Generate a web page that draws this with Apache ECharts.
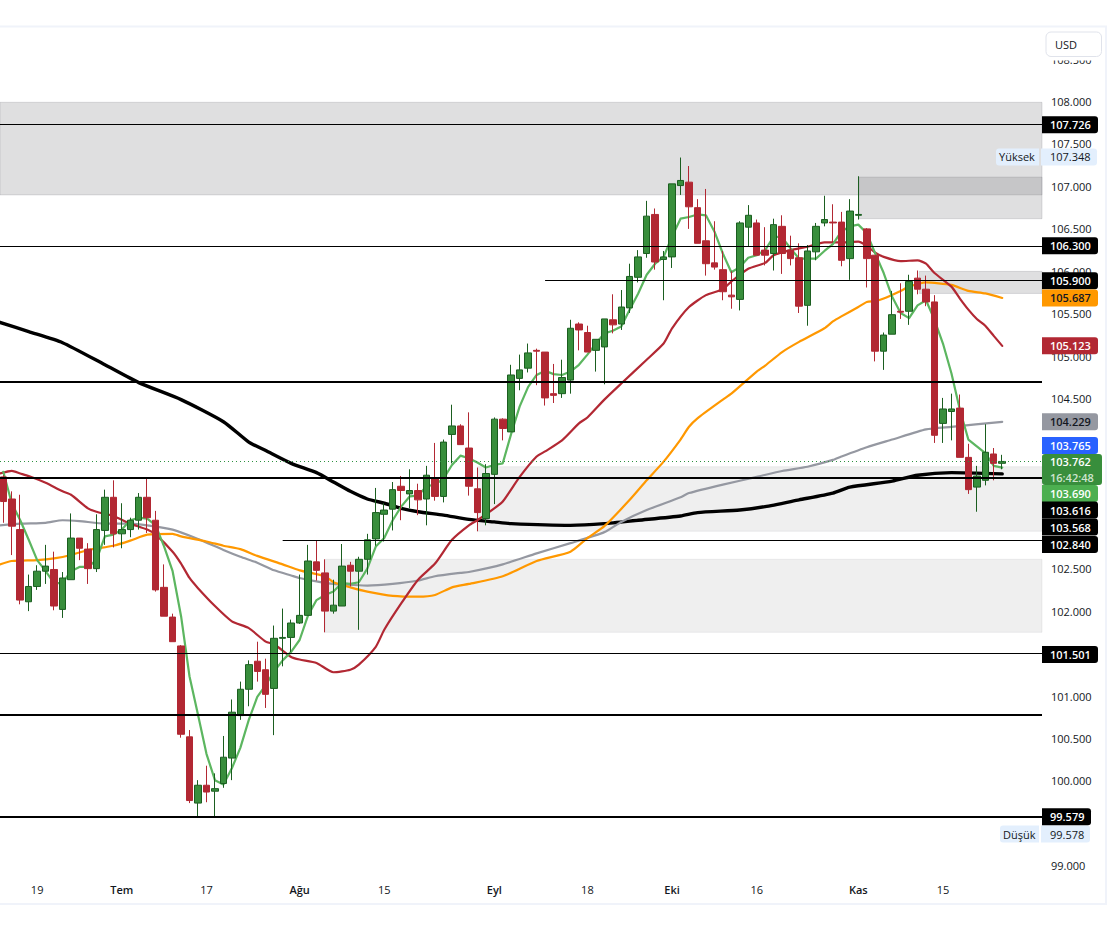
<!DOCTYPE html>
<html lang="tr">
<head>
<meta charset="utf-8">
<title>USD</title>
<style>
  html, body { margin: 0; padding: 0; background: #fff; }
  #chart { width: 1116px; height: 939px; }
</style>
</head>
<body>
<div id="chart"></div>
<script src="https://cdn.jsdelivr.net/npm/echarts@6/dist/echarts.min.js"></script>
<script>
// ---------- mumlar (candle index = dizi sirasi) ----------
var opens = [103.58,103.32,102.96,102.11,102.29,102.47,102.49,102.02,102.37,102.86,102.73,102.50,102.95,103.34,102.91,102.96,103.07,103.34,103.07,102.28,
  101.93,101.59,100.52,99.74,99.95,99.88,99.97,100.27,100.77,101.08,101.41,101.31,101.09,101.68,101.69,101.86,101.95,102.58,102.45,102.00,
  102.06,102.54,102.47,102.61,102.85,103.14,103.20,103.47,103.38,103.42,103.32,103.56,103.35,104.08,104.18,103.92,103.44,103.09,103.61,104.26,
  104.11,104.74,104.86,105.07,105.05,104.56,104.56,104.72,105.38,105.28,105.07,105.11,105.43,105.38,105.57,105.93,106.21,106.67,106.14,106.17,
  107.01,107.05,106.75,106.36,106.10,106.02,105.72,105.67,106.52,106.57,106.25,106.21,106.53,106.25,106.16,105.60,106.23,106.57,106.58,106.58,
  106.15,106.66,106.50,106.19,105.06,105.26,105.53,105.53,105.92,105.79,105.64,104.21,104.35,104.39,103.81,103.46,103.54,103.85,103.74];
var highs = [103.60,103.41,103.37,102.43,102.54,102.78,102.70,102.46,103.15,102.86,102.80,103.14,103.43,103.54,103.27,103.10,103.39,103.56,103.18,102.55,
  101.97,101.60,100.60,100.01,100.18,100.09,100.53,100.96,101.17,101.42,101.64,101.44,101.83,102.03,101.90,102.43,102.78,102.83,102.61,102.37,
  102.79,102.58,102.64,102.91,103.45,103.27,103.52,103.59,103.67,103.50,103.71,103.98,104.02,104.43,104.20,104.34,103.69,103.73,104.28,104.27,
  104.90,105.02,105.15,105.09,105.05,104.91,104.96,105.43,105.40,105.36,105.20,105.44,105.73,105.78,106.09,106.25,106.83,106.74,106.24,107.03,
  107.34,107.24,106.85,106.97,106.59,106.24,106.00,106.59,106.78,106.61,106.52,106.62,106.66,106.42,106.33,106.31,106.57,106.89,106.79,106.70,
  106.85,107.12,106.51,106.19,105.28,105.77,105.86,105.96,106.01,105.95,105.72,104.51,104.56,104.55,103.97,103.71,104.20,103.92,103.84];
var lows = [103.04,102.66,102.08,102.00,102.25,102.32,102.01,101.92,102.37,102.60,102.32,102.46,102.78,102.75,102.74,102.87,102.96,102.92,102.23,101.94,
  101.64,100.51,99.74,99.58,99.75,99.58,99.92,100.01,100.72,100.88,101.17,100.86,100.54,101.35,101.52,101.85,101.95,102.36,101.75,101.97,
  102.06,102.29,101.78,102.43,102.77,102.82,102.95,103.07,103.21,103.13,103.01,103.30,103.28,103.74,103.96,103.36,102.94,103.01,103.26,104.01,
  104.11,104.60,104.81,104.66,104.42,104.45,104.51,104.56,105.07,105.05,104.82,104.67,105.27,105.31,105.51,105.87,106.16,106.02,105.66,106.04,
  106.90,106.50,106.33,105.95,106.02,105.66,105.56,105.54,106.29,106.19,106.07,106.01,105.97,106.07,105.51,105.36,106.13,106.53,106.34,106.06,
  105.90,106.61,105.81,104.94,104.84,105.26,105.44,105.37,105.73,105.59,103.98,103.98,104.01,103.81,103.38,103.17,103.48,103.54,103.67];
var closes = [103.29,103.00,102.13,102.29,102.47,102.53,102.06,102.39,102.86,102.74,102.50,102.96,103.34,102.91,102.96,103.07,103.34,103.10,102.25,101.94,
  101.64,100.55,99.77,99.95,99.87,99.91,100.28,100.81,101.08,101.37,101.29,101.02,101.68,101.69,101.86,101.95,102.59,102.48,102.00,102.07,
  102.53,102.47,102.61,102.84,103.16,103.19,103.43,103.42,103.42,103.31,103.60,103.35,103.99,104.18,103.96,103.47,103.16,103.62,104.26,104.15,
  104.78,104.84,105.04,105.06,104.51,104.54,104.75,105.33,105.31,105.05,105.20,105.44,105.37,105.58,105.94,106.17,106.65,106.11,106.17,107.03,
  107.07,106.76,106.33,106.09,106.05,105.76,105.70,106.57,106.66,106.19,106.19,106.55,106.21,106.15,105.59,106.24,106.53,106.61,106.57,106.13,
  106.71,106.67,106.15,105.06,105.25,105.49,105.52,105.88,105.79,105.64,104.07,104.38,104.38,103.81,103.43,103.59,103.87,103.74,103.762];

// ---------- hareketli ortalamalar ----------
var ma5Val = [103.64,103.27,103.07,102.84,102.60,102.47,102.33,102.33,102.47,102.52,102.52,102.60,102.88,102.90,102.96,103.07,103.10,103.09,103.01,102.76,
  102.47,101.94,101.23,100.78,100.32,100.01,99.96,100.15,100.39,100.72,100.99,101.13,101.29,101.42,101.52,101.66,101.95,102.13,102.19,102.23,
  102.33,102.32,102.34,102.50,102.76,102.86,103.07,103.23,103.35,103.36,103.47,103.49,103.56,103.72,103.83,103.80,103.75,103.69,103.72,103.74,
  104.09,104.41,104.64,104.78,104.83,104.79,104.78,104.82,104.90,105.02,105.15,105.27,105.30,105.35,105.55,105.74,105.96,106.09,106.17,106.41,
  106.62,106.64,106.67,106.66,106.47,106.21,105.99,106.05,106.16,106.19,106.25,106.41,106.40,106.27,106.15,106.15,106.15,106.24,106.32,106.47,
  106.53,106.55,106.45,106.21,105.98,105.70,105.51,105.45,105.60,105.66,105.43,105.15,104.80,104.37,104.02,103.94,103.86,103.71,103.69];

var ma20Idx = [-0.4,1,2,3,5,7,8,10,11,13,15,17,18,20,21,22,23,25,27,29,31,32,34,35,37,39,41,42,44,45,47,49,51,53,55,56,58,59,61,63,64,66,68,69,71,73,76,78,79,81,83,85,86,88,90,91,93,95,97,99,101,102,103,104,106,108,109,110,112,113,114,115,116,117,118];
var ma20Val = [103.62,103.65,103.62,103.59,103.51,103.41,103.37,103.21,103.17,103.12,103.03,102.96,102.90,102.70,102.56,102.39,102.27,102.06,101.88,101.80,101.64,101.61,101.46,101.43,101.39,101.28,101.31,101.37,101.58,101.78,102.09,102.37,102.56,102.84,103.01,103.07,103.21,103.29,103.58,103.82,103.88,104.01,104.21,104.28,104.49,104.68,104.96,105.15,105.33,105.58,105.72,105.79,105.88,106.03,106.10,106.19,106.25,106.29,106.34,106.34,106.35,106.30,106.22,106.17,106.12,106.13,106.09,105.98,105.82,105.68,105.55,105.44,105.36,105.24,105.123];

var ma50Idx = [-0.4,1,4,6,8,10,13,15,17,20,21,24,26,28,30,33,35,38,39,41,43,46,49,51,53,55,59,63,67,69,71,74,76,78,80,81,82,85,86,89,90,92,94,97,98,99,101,102,103,104,106,107,109,112,114,116,118];
var ma50Val = [102.55,102.59,102.60,102.62,102.66,102.72,102.77,102.83,102.90,102.91,102.88,102.82,102.77,102.73,102.65,102.55,102.48,102.41,102.34,102.28,102.23,102.18,102.17,102.19,102.28,102.32,102.41,102.59,102.70,102.86,103.00,103.31,103.54,103.76,104.02,104.17,104.27,104.49,104.56,104.82,104.89,105.05,105.17,105.33,105.41,105.47,105.58,105.64,105.65,105.68,105.77,105.82,105.87,105.84,105.77,105.74,105.687];

var ma100Idx = [-0.4,2,5,7,9,12,15,17,20,23,26,28,30,32,34,35,37,39,41,43,46,49,51,54,55,59,63,67,71,73,76,80,81,85,89,92,95,98,99,102,105,109,112,118];
var ma100Val = [103.01,103.03,103.04,103.07,103.06,103.03,103.03,103.01,102.96,102.85,102.72,102.64,102.57,102.48,102.42,102.39,102.35,102.32,102.31,102.30,102.32,102.36,102.41,102.45,102.46,102.55,102.68,102.80,102.93,103.05,103.19,103.34,103.39,103.49,103.58,103.65,103.70,103.78,103.82,103.93,104.02,104.14,104.17,104.229];

var ma200Idx = [-0.4,3,7,12,16,21,26,29,31,34,37,39,41,43,45,47,49,52,55,58,60,67,71,75,80,82,87,90,94,98,100,105,108,112,118];
var ma200Val = [105.40,105.29,105.16,104.90,104.69,104.49,104.23,103.99,103.89,103.74,103.63,103.52,103.41,103.32,103.27,103.21,103.17,103.13,103.08,103.05,103.03,103.01,103.03,103.07,103.12,103.16,103.19,103.23,103.31,103.39,103.46,103.53,103.60,103.63,103.616];

// ---------- yatay seviyeler: [fiyat, baslangic mum indeksi] ----------
var thinLevels = [[107.726,null],[106.30,null],[105.90,64],[102.84,33],[101.501,null]];
var thickLevels = [[104.70,null],[103.568,null],[100.775,null],[99.579,null]];
var lastPrice = 103.762;

// ---------- bolgeler: [baslangic indeksi, ust fiyat, alt fiyat] ----------
var darkZones = [[null,107.99,106.90],[101.1,107.11,106.62],[108.2,106.00,105.74]];
var lightZones = [[56,103.70,102.94],[38,102.61,101.75]];

// ---------- eksen etiketleri ----------
var dateIdx = [4,14,24,35,45,58,69,79,89,101,111];
var dateLabels = ['19','Tem','17','Ağu','15','Eyl','18','Eki','16','Kas','15'];
var monthLabels = ['Tem','Ağu','Eyl','Eki','Kas'];
// etiketlerin altinda kalan tikler (99.5, 101.5, 103, 103.5, 104) referansta gorunmuyor
var priceTicks = [99,100,100.5,101,102,102.5,104.5,105,105.5,106,106.5,107,107.5,108,108.5];

// fiyat etiketleri: metin + eksendeki konumu (TradingView cakisan etiketleri kaydirir)
var tagTexts = ['107.726','106.300','105.900','105.687','105.123','104.229','103.765','103.690','103.616','103.568','102.840','101.501','99.579'];
var tagSpots = [107.726,106.30,105.89,105.687,105.123,104.229,103.95,103.385,103.19,102.99,102.785,101.49,99.579];
var tagKinds = ['k','k','k','o','r','g','b','l','k','k','k','k','k'];
var lastTagSpot = 103.668;
var countdown = '16:42:48';
var hiLoNames = ['Yüksek','Düşük'];
var hiLoTexts = ['107.348','99.578'];
var hiLoSpots = [107.347,99.376];

var FONT = '"Open Sans", "Liberation Sans", sans-serif';
var UP = '#388e3c', UP_DK = '#1b5e20', DOWN = '#b22833';
var X_MIN = -0.39, X_MAX = 122.7, Y_MIN = 98.858, Y_MAX = 108.865;
var ZONE_GREY = '120,120,126';

function pairs(idx, val){ return idx.map(function(x,i){ return [x, val[i]]; }); }
function maLine(name, data, color, width, smooth){
  return { name:name, type:'line', data:data, z:1, showSymbol:false, smooth:smooth, silent:true,
           lineStyle:{ color:color, width:width, cap:'round', join:'round' } };
}
function levelLine(lv, width){
  return [{ coord:[lv[1]==null ? X_MIN : lv[1], lv[0]], lineStyle:{ color:'#000', width:width, type:'solid' } }, { coord:[X_MAX, lv[0]] }];
}
function zoneArea(z){
  return [{ coord:[z[0]==null ? X_MIN-1 : z[0], z[1]] }, { coord:[X_MAX, z[2]] }];
}
function tagStyle(bg, fg, w){
  return { backgroundColor:bg, color:fg, width:w, height:17, lineHeight:17, padding:[0,0,0,8], align:'left',
           fontFamily:FONT, fontSize:11, fontWeight:600, borderRadius:[0,3,3,0] };
}
var tagRich = {
  k:tagStyle('#000','#fff',48), k5:tagStyle('#000','#fff',41), o:tagStyle('#ff9800','#131722',48), r:tagStyle('#b22833','#fff',48),
  g:tagStyle('#9598a1','#131722',48), b:tagStyle('#2962ff','#fff',48), l:tagStyle('#4caf50','#fff',48),
  g1:{ backgroundColor:UP, color:'#fff', width:52, height:16, lineHeight:16, padding:[0,0,0,8], fontFamily:FONT, fontSize:11, fontWeight:600, borderRadius:[3,3,0,0] },
  g2:{ backgroundColor:UP, color:'#cfe5d0', width:52, height:15, lineHeight:15, padding:[0,0,0,8], fontFamily:FONT, fontSize:11, fontWeight:600, borderRadius:[0,0,3,3] }
};
var hiLoRich = {
  sp:{ width:4, height:17 },
  n:{ backgroundColor:'#e3effd', color:'#131722', width:40, height:17, lineHeight:17, padding:[0,0,0,3], fontFamily:FONT, fontSize:11, borderRadius:[3,0,0,3] },
  n5:{ backgroundColor:'#e3effd', color:'#131722', width:36, height:17, lineHeight:17, padding:[0,0,0,3], fontFamily:FONT, fontSize:11, borderRadius:[3,0,0,3] },
  gap:{ width:2, height:17 },
  v:{ backgroundColor:'#e3effd', color:'#131722', width:47, height:17, lineHeight:17, padding:[0,0,0,9], fontFamily:FONT, fontSize:11, borderRadius:[0,3,3,0] },
  v5:{ backgroundColor:'#e3effd', color:'#131722', width:40, height:17, lineHeight:17, padding:[0,0,0,9], fontFamily:FONT, fontSize:11, borderRadius:[0,3,3,0] }
};

function hiddenAxisBase(extra){
  return Object.assign({ type:'value', position:'right', min:Y_MIN, max:Y_MAX, scale:true,
    axisLine:{ show:false }, axisTick:{ show:false }, splitLine:{ show:false } }, extra);
}

var chart = echarts.init(document.getElementById('chart'), null, { renderer:'svg' });

chart.setOption({
  animation:false,
  backgroundColor:'#fff',
  textStyle:{ fontFamily:FONT },
  grid:{ left:0, top:28, width:1042, height:850, containLabel:false },
  xAxis:{
    type:'value', min:X_MIN, max:X_MAX, splitLine:{ show:false }, axisLine:{ show:false }, axisTick:{ show:false },
    axisLabel:{
      customValues:dateIdx, margin:6, color:'#131722', fontFamily:FONT, fontSize:11,
      formatter:function(v){
        var t = dateLabels[dateIdx.indexOf(v)];
        return monthLabels.indexOf(t)>=0 ? '{m|'+t+'}' : t;
      },
      rich:{ m:{ fontWeight:600, fontFamily:FONT, fontSize:11, color:'#131722' } }
    }
  },
  yAxis:[
    hiddenAxisBase({ axisLabel:{ customValues:priceTicks, margin:9, align:'left', color:'#131722', fontFamily:FONT, fontSize:11,
      formatter:function(v){ return v.toFixed(3); } } }),
    hiddenAxisBase({ z:6, axisLabel:{ customValues:hiLoSpots, margin:-46, align:'left',
      formatter:function(v){
        var i = hiLoSpots.indexOf(v);
        return i===0 ? '{n|'+hiLoNames[0]+'}{gap|}{v|'+hiLoTexts[0]+'}' : '{sp|}{n5|'+hiLoNames[1]+'}{gap|}{v5|'+hiLoTexts[1]+'}';
      }, rich:hiLoRich } }),
    hiddenAxisBase({ z:7, axisLabel:{ customValues:tagSpots.concat([lastTagSpot]), margin:0, align:'left',
      formatter:function(v){
        if(v===lastTagSpot) return '{g1|'+lastPrice.toFixed(3)+'}\n{g2|'+countdown+'}';
        var i = tagSpots.indexOf(v), t = tagTexts[i];
        return '{'+(t.length===6 ? 'k5' : tagKinds[i])+'|'+t+'}';
      }, rich:tagRich } })
  ],
  series:[
    { type:'line', data:[], silent:true, z:0,
      markArea:{ silent:true, z:0, itemStyle:{ color:'rgba('+ZONE_GREY+',0.24)', borderColor:'rgba('+ZONE_GREY+',0.22)', borderWidth:1 },
                 data:darkZones.map(zoneArea) } },
    { type:'line', data:[], silent:true, z:0,
      markArea:{ silent:true, z:0, itemStyle:{ color:'rgba('+ZONE_GREY+',0.12)', borderColor:'rgba('+ZONE_GREY+',0.1)', borderWidth:1 },
                 data:lightZones.map(zoneArea) } },
    maLine('MA200', pairs(ma200Idx, ma200Val), '#000', 3.4, 0.2),
    maLine('MA100', pairs(ma100Idx, ma100Val), '#9598a1', 2.2, 0.2),
    maLine('MA50', pairs(ma50Idx, ma50Val), '#ff9800', 2.2, 0.2),
    maLine('MA20', pairs(ma20Idx, ma20Val), '#b22833', 2.2, 0.2),
    maLine('MA5', ma5Val.map(function(v,i){ return [i,v]; }), '#5cb660', 2.2, 0),
    { type:'candlestick', z:2, barWidth:7, silent:true,
      encode:{ x:0, y:[1,2,3,4] },
      data:opens.map(function(o,i){ return [i, o, closes[i], lows[i], highs[i]]; }),
      itemStyle:{ color:UP, color0:DOWN, borderColor:UP_DK, borderColor0:DOWN, borderWidth:1 } },
    { type:'line', data:[], silent:true, z:5,
      markLine:{ silent:true, z:5, symbol:'none', label:{ show:false }, animation:false,
        data:thinLevels.map(function(l){ return levelLine(l,1); })
          .concat(thickLevels.map(function(l){ return levelLine(l,2); }))
          .concat([levelLine([lastPrice,null],1)].map(function(p){
            p[0].lineStyle = { color:'#2e9140', width:1, type:[1,3] }; return p; })) } }
  ],
  graphic:[
    { type:'rect', z:49, silent:true, shape:{ x:1043, y:29, width:61, height:31.5 }, style:{ fill:'#fff' } },
    { type:'rect', z:50, silent:true, shape:{ x:-4, y:26.5, width:1110, height:877.5 }, style:{ fill:'none', stroke:'#f0f3fa', lineWidth:2 } },
    { type:'rect', z:50, silent:true, shape:{ x:1046, y:32, width:55.5, height:24.5, r:5 }, style:{ fill:'#fff', stroke:'#e0e3eb', lineWidth:1 } },
    { type:'text', z:51, silent:true, x:1055, y:44, style:{ text:'USD', fill:'#131722', fontFamily:FONT, fontSize:11, verticalAlign:'middle' } }
  ]
});
</script>
</body>
</html>
